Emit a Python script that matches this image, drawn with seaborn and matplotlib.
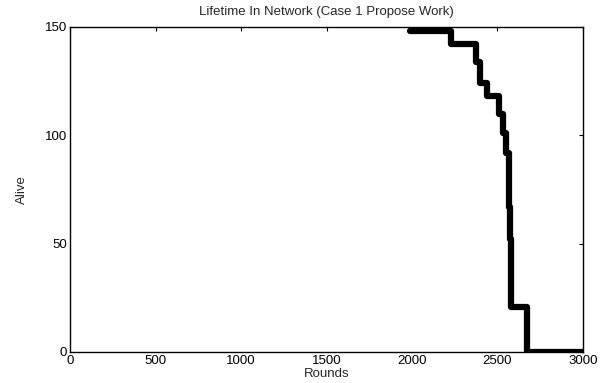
import matplotlib
matplotlib.use("Agg")
import matplotlib.pyplot as plt
import seaborn as sns
import pandas as pd

rounds = [1990, 2226, 2374, 2398, 2439, 2509, 2532, 2550, 2568, 2572, 2578, 2670, 3000]
alive = [148, 142, 134, 124, 118, 110, 101, 92, 67, 52, 21, 0, 0]
x_ticks = [0, 500, 1000, 1500, 2000, 2500, 3000]
y_ticks = [0, 50, 100, 150]

sns.set_theme(style="white")
plt.rcParams['font.family'] = ['Liberation Sans', 'DejaVu Sans']

df = pd.DataFrame({"Rounds": rounds, "Alive": alive})

fig = plt.figure(figsize=(6.10, 3.83), dpi=100)
ax = fig.add_axes([70/610, 1-352/383, (583-70)/610, (352-27)/383])
sns.lineplot(data=df, x="Rounds", y="Alive", ax=ax, color="black",
             linewidth=4.5, drawstyle="steps-post", estimator=None, sort=False)

fs = 9.5
ax.set_xlim(0, 3000)
ax.set_ylim(0, 150)
ax.set_xticks(x_ticks)
ax.set_yticks(y_ticks)
ax.tick_params(direction="in", length=3, width=0.8, top=True, right=True,
               labelsize=fs, colors="black", pad=2)
for s in ax.spines.values():
    s.set_color("black")
    s.set_linewidth(1.0)
ax.set_xlabel("Rounds", fontsize=fs, labelpad=1)
ax.set_ylabel("Alive", fontsize=fs, labelpad=12)
ax.set_title("Lifetime In Network (Case 1 Propose Work)", fontsize=fs, pad=9)
fig.savefig("out.png", dpi=100)
